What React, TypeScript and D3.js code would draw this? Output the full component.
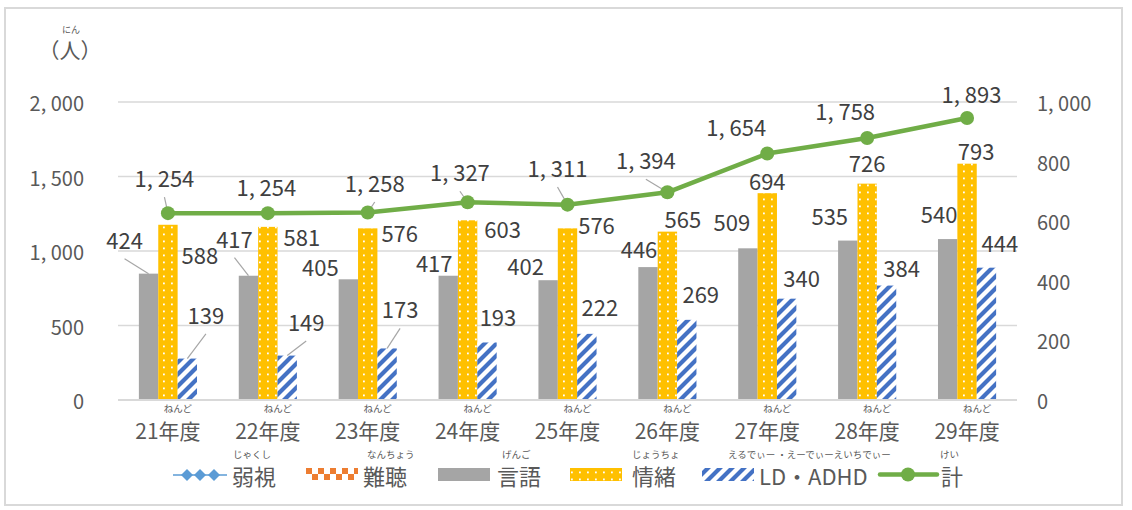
import React from 'react';
import * as d3 from 'd3';

const categories = ['21', '22', '23', '24', '25', '26', '27', '28', '29'];
const categoryLabels = categories.map((c) => `${c}年度`);
const categoryRuby = 'ねんど';

const gengo = [424, 417, 405, 417, 402, 446, 509, 535, 540];
const jocho = [588, 581, 576, 603, 576, 565, 694, 726, 793];
const ldadhd = [139, 149, 173, 193, 222, 269, 340, 384, 444];
const total = [1254, 1254, 1258, 1327, 1311, 1394, 1654, 1758, 1893];

const leftTicks = [0, 500, 1000, 1500, 2000];
const rightTicks = [0, 200, 400, 600, 800, 1000];

const legendNames = ['弱視', '難聴', '言語', '情緒', 'LD・ADHD', '計'];
const legendRuby = ['じゃくし', 'なんちょう', 'げんご', 'じょうちょ', 'えるでぃー ・えーでぃーえいちでぃー', 'けい'];

// label placement offsets (relative to mark anchor), layout only
const gengoOff = [[-24, -35], [-14, -38], [-28, -13], [-14, -14], [-22.5, -15], [-9, -18.6], [-16, -27], [-18, -26], [-8.6, -25.6]];
const jochoOff = [[32, 29], [34, 9], [32, 4], [35, 8], [29, -4.4], [15.5, -14], [0, -13], [0, -21.7], [9, -13.7]];
const ldOff = [[18.6, -44.6], [19, -34.6], [13, -40], [11, -26.5], [13, -28], [14, -27], [15, -21.7], [15, -18.6], [13.5, -25.7]];
const totalOff = [[-3.5, -36], [-1.5, -27], [7, -30.6], [-7.7, -31], [-10, -37.7], [-21.5, -33], [-31, -27.6], [-22, -28], [4.4, -25.4]];
const gengoLeaders = [0, 1];
const ldLeaders = [0, 1, 2];
const totalLeaders = [0, 2, 3, 4, 5];

const legendX = [173, 306, 438, 570, 702, 880];
const legendTextX = [232, 363, 497, 632, 759, 941];
const rubyX = [233, 367, 502, 632, 728, 940];

const FONT = '"Noto Sans CJK JP", "Noto Sans", sans-serif';
const LABEL_COLOR = '#404040';
const AXIS_COLOR = '#595959';

const fmt = d3.format(',');

function Num({ x, y, v, size, anchor = 'middle', fill = LABEL_COLOR }: any) {
  const s = fmt(v);
  const parts = s.split(',');
  return (
    <text x={x} y={y} fontSize={size} fill={fill} textAnchor={anchor} dominantBaseline="central" fontFamily={FONT}>
      {parts.map((p, i) => (
        <tspan key={i} dx={i > 0 ? size * 0.22 : 0}>{p + (i < parts.length - 1 ? ',' : '')}</tspan>
      ))}
    </text>
  );
}

export default function App() {
  const x = d3.scaleBand<string>().domain(categories).range([118, 1017]).paddingInner(0).paddingOuter(0);
  const yL = d3.scaleLinear().domain([0, 2000]).range([400, 102]);
  const yR = d3.scaleLinear().domain([0, 1000]).range([400, 102]);
  const bw = x.bandwidth();
  const barW = bw * 0.194;
  const cx = (i: number) => (x(categories[i]) as number) + bw / 2;

  const barSeries = [
    { values: gengo, fill: '#a5a5a5', off: gengoOff, leaders: gengoLeaders },
    { values: jocho, fill: 'url(#dots)', off: jochoOff, leaders: [] as number[] },
    { values: ldadhd, fill: 'url(#hatch)', off: ldOff, leaders: ldLeaders },
  ];

  const line = d3.line<number>().x((_, i) => cx(i)).y((d) => yL(d));

  return (
    <svg width={1132} height={510} style={{ position: 'absolute', left: 0, top: 0, background: '#fff' }} fontFamily={FONT}>
      <defs>
        <pattern id="dots" width={8} height={7} patternUnits="userSpaceOnUse">
          <rect width={8} height={7} fill="#ffc000" />
          <rect x={3} y={2.5} width={1.8} height={1.8} fill="#fff" />
        </pattern>
        <pattern id="hatch" width={12} height={12} patternUnits="userSpaceOnUse">
          <rect width={12} height={12} fill="#fff" />
          <path d="M-3,3 l6,-6 M0,12 l12,-12 M9,15 l6,-6" stroke="#4472c4" strokeWidth={4.2} />
        </pattern>
        <pattern id="checker" width={12} height={12} patternUnits="userSpaceOnUse" x={306} y={468}>
          <rect width={12} height={12} fill="#fff" />
          <rect x={0} y={0} width={6} height={6} fill="#ed7d31" />
          <rect x={6} y={6} width={6} height={6} fill="#ed7d31" />
        </pattern>
      </defs>
      <rect x={5} y={8} width={1117} height={497} fill="#fff" stroke="#d9d9d9" strokeWidth={2} />

      {/* gridlines */}
      {leftTicks.filter((t) => t > 0).map((t) => (
        <line key={t} x1={118} x2={1017} y1={yL(t)} y2={yL(t)} stroke="#d9d9d9" strokeWidth={1.3} />
      ))}

      {/* axis labels */}
      {leftTicks.map((t) => (
        <Num key={t} x={84} y={yL(t)} v={t} size={20} anchor="end" fill={AXIS_COLOR} />
      ))}
      {rightTicks.map((t) => (
        <Num key={t} x={1037} y={yR(t)} v={t} size={20} anchor="start" fill={AXIS_COLOR} />
      ))}
      <text x={70} y={49} fontSize={21} fill={AXIS_COLOR} textAnchor="middle" dominantBaseline="central">（人）</text>
      <text x={71} y={29} fontSize={9} fill={AXIS_COLOR} textAnchor="middle" dominantBaseline="central">にん</text>

      {/* bars */}
      {barSeries.map((s, k) =>
        s.values.map((v, i) => (
          <rect key={`${k}-${i}`} x={cx(i) - 1.5 * barW + k * barW} y={yR(v)} width={barW} height={yR(0) - yR(v)} fill={s.fill} />
        ))
      )}

      {/* category axis */}
      <line x1={118} x2={1017} y1={400} y2={400} stroke="#d9d9d9" strokeWidth={2.2} />
      {categoryLabels.map((c, i) => (
        <g key={c}>
          <text x={cx(i)} y={430} fontSize={21} fill={AXIS_COLOR} textAnchor="middle" dominantBaseline="central">{c}</text>
          <text x={cx(i) + 10} y={407.5} fontSize={9.5} fill={AXIS_COLOR} textAnchor="middle" dominantBaseline="central">{categoryRuby}</text>
        </g>
      ))}

      {/* leader lines */}
      {barSeries.map((s, k) =>
        s.leaders.map((i) => {
          const bx = cx(i) - 1.5 * barW + k * barW + barW / 2;
          const by = yR(s.values[i]);
          const lx = bx + s.off[i][0];
          const ly = by + s.off[i][1];
          return <line key={`l${k}-${i}`} x1={lx} y1={ly + 20} x2={bx} y2={by} stroke="#a6a6a6" strokeWidth={1.2} />;
        })
      )}
      {totalLeaders.map((i) => {
        const px = cx(i), py = yL(total[i]);
        return <line key={`tl${i}`} x1={px + totalOff[i][0]} y1={py + totalOff[i][1] + 20} x2={px} y2={py} stroke="#a6a6a6" strokeWidth={1.2} />;
      })}

      {/* total line */}
      <path d={line(total) || ''} fill="none" stroke="#70ad47" strokeWidth={4.5} strokeLinejoin="round" />
      {total.map((v, i) => (
        <circle key={i} cx={cx(i)} cy={yL(v)} r={7} fill="#70ad47" />
      ))}

      {/* data labels */}
      {barSeries.map((s, k) =>
        s.values.map((v, i) => {
          const bx = cx(i) - 1.5 * barW + k * barW + barW / 2;
          const by = yR(v);
          return <Num key={`t${k}-${i}`} x={bx + s.off[i][0]} y={by + s.off[i][1]} v={v} size={22} />;
        })
      )}
      {total.map((v, i) => (
        <Num key={`tt${i}`} x={cx(i) + totalOff[i][0]} y={yL(v) + totalOff[i][1]} v={v} size={22} />
      ))}

      {/* legend */}
      {legendNames.map((name, j) => {
        const lx = legendX[j];
        let marker: any = null;
        if (j === 0) {
          marker = (
            <g>
              <line x1={lx} x2={lx + 54} y1={475} y2={475} stroke="#5b9bd5" strokeWidth={1.5} />
              {[14, 27, 41].map((d) => (
                <path key={d} d={`M${lx + d},${469} l6,6 l-6,6 l-6,-6 z`} fill="#5b9bd5" />
              ))}
            </g>
          );
        } else if (j === 1) {
          marker = <rect x={lx} y={468} width={52} height={12} fill="url(#checker)" />;
        } else if (j === 2) {
          marker = <rect x={lx} y={468} width={52} height={13} fill="#a5a5a5" />;
        } else if (j === 3) {
          marker = <rect x={lx} y={468} width={52} height={13} fill="url(#dots)" />;
        } else if (j === 4) {
          marker = <rect x={lx} y={468} width={52} height={13} fill="url(#hatch)" />;
        } else {
          marker = (
            <g>
              <line x1={lx} x2={lx + 57} y1={474.5} y2={474.5} stroke="#70ad47" strokeWidth={4.5} strokeLinecap="round" />
              <circle cx={lx + 28} cy={474.5} r={7} fill="#70ad47" />
            </g>
          );
        }
        return (
          <g key={name}>
            {marker}
            <text x={legendTextX[j]} y={475} fontSize={22} fill={AXIS_COLOR} dominantBaseline="central">{name}</text>
            <text x={rubyX[j]} y={453.5} fontSize={9.5} fill={AXIS_COLOR} dominantBaseline="central">{legendRuby[j]}</text>
          </g>
        );
      })}
    </svg>
  );
}
